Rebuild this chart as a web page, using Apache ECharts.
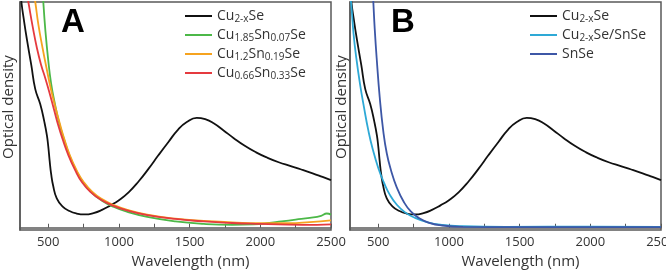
<!DOCTYPE html>
<html>
<head>
<meta charset="utf-8">
<script src="https://cdn.jsdelivr.net/npm/echarts@6/dist/echarts.min.js"></script>
<style>
html, body { margin: 0; padding: 0; background: #fff; }
#chart { width: 666px; height: 270px; }
</style>
</head>
<body>
<div id="chart"></div>
<script>
// 坐标轴刻度
const tickValues = [500, 750, 1000, 1250, 1500, 1750, 2000, 2250, 2500];
const labelValues = [500, 1000, 1500, 2000, 2500];

// Cu2-xSe（两个面板共用）
const cuSeNm = [300, 310, 330, 350, 380, 408, 443, 472, 490, 500, 510, 520, 535, 560, 600, 650, 700, 760, 820, 880, 940, 1000, 1070, 1140, 1210, 1280, 1350, 1420, 1480, 1550, 1610, 1670, 1740, 1810, 1890, 1970, 2050, 2130, 2210, 2290, 2370, 2440, 2500];
const cuSeOd = [108, 100, 91, 83, 72, 61.4, 54.8, 47, 41, 36, 29.5, 24, 18.5, 13.0, 9.5, 7.4, 6.3, 5.9, 6.5, 7.9, 9.9, 12.2, 15.8, 20.6, 26.2, 32.2, 38.0, 43.6, 46.8, 48.7, 48.1, 46.3, 43.1, 39.8, 36.3, 33.4, 31.0, 29.0, 27.4, 25.8, 24.1, 22.5, 21.1];

// 面板 A
const sn007Nm = [455, 465, 480, 500, 520, 545, 575, 610, 650, 700, 750, 810, 880, 960, 1060, 1200, 1400, 1600, 1800, 1950, 2050, 2150, 2250, 2350, 2430, 2470, 2500];
const sn007Od = [112, 100, 87, 74, 64, 55.5, 47, 39.5, 32, 25, 19.8, 15.4, 12.0, 9.3, 7.0, 4.8, 2.8, 1.7, 1.3, 1.5, 2.0, 2.8, 3.6, 4.4, 5.3, 6.3, 5.8];
const sn019Nm = [383, 408, 430, 460, 490, 520, 550, 580, 610, 650, 700, 750, 810, 880, 960, 1060, 1200, 1400, 1600, 1800, 2000, 2200, 2350, 2500];
const sn019Od = [110, 100, 90, 79.5, 70, 61, 53.5, 46.5, 40, 32.5, 25.5, 20.3, 16.0, 12.7, 10.1, 7.9, 5.8, 4.0, 3.0, 2.4, 2.0, 2.0, 2.5, 3.3];
const sn033Nm = [300, 330, 359, 390, 420, 450, 480, 510, 540, 570, 600, 640, 690, 740, 800, 870, 950, 1050, 1200, 1400, 1600, 1800, 2000, 2200, 2400, 2500];
const sn033Od = [122, 110, 100, 89, 79.5, 72, 66, 59.5, 52.5, 45.5, 39.5, 32.5, 25.5, 20.0, 15.8, 12.5, 10.0, 7.8, 5.6, 3.9, 2.8, 2.1, 1.7, 1.4, 1.3, 1.5];

// 面板 B
const hybridNm = [300, 310, 325, 345, 370, 400, 430, 460, 500, 540, 580, 630, 690, 760, 850, 950, 1100, 1400, 2000, 2500];
const hybridOd = [104, 98, 86, 75, 64, 53, 43, 35, 26.5, 20, 14.8, 10.3, 6.8, 4.4, 2.4, 1.3, 0.7, 0.4, 0.5, 0.4];
const snSeNm = [455, 465, 475, 490, 510, 535, 560, 590, 630, 680, 730, 790, 860, 950, 1100, 1500, 2500];
const snSeOd = [112, 100, 88, 74, 58, 43, 33, 25.5, 18, 11.5, 7.2, 4.2, 2.2, 1.0, 0.4, 0.3, 0.3];

const legendA = ['Cu2-xSe', 'Cu1.85Sn0.07Se', 'Cu1.2Sn0.19Se', 'Cu0.66Sn0.33Se'];
const legendB = ['Cu2-xSe', 'Cu2-xSe/SnSe', 'SnSe'];

// 图例里的下标用富文本
const legendRich = {
    'Cu2-xSe': '{m|Cu}{s|2-x}{m|Se}',
    'Cu1.85Sn0.07Se': '{m|Cu}{s|1.85}{m|Sn}{s|0.07}{m|Se}',
    'Cu1.2Sn0.19Se': '{m|Cu}{s|1.2}{m|Sn}{s|0.19}{m|Se}',
    'Cu0.66Sn0.33Se': '{m|Cu}{s|0.66}{m|Sn}{s|0.33}{m|Se}',
    'Cu2-xSe/SnSe': '{m|Cu}{s|2-x}{m|Se/SnSe}',
    'SnSe': '{m|SnSe}'
};

const zip = (xs, ys) => xs.map((x, i) => [x, ys[i]]);
const fontFamily = 'Open Sans';
const frameColor = '#595959';

function makeXAxis(gridIndex) {
    return {
        type: 'value', gridIndex, min: 300, max: 2500,
        axisLine: { lineStyle: { color: frameColor, width: 1.5 } },
        axisTick: { inside: true, length: 4, customValues: tickValues, lineStyle: { color: frameColor } },
        axisLabel: { customValues: labelValues, formatter: v => String(v), color: '#333', fontSize: 13, fontFamily, margin: 6 },
        splitLine: { show: false },
        name: 'Wavelength (nm)', nameLocation: 'middle', nameGap: 22,
        nameTextStyle: { color: '#333', fontSize: 15, fontFamily, padding: [0, 0, 0, 30] }
    };
}

function makeYAxis(gridIndex, gap) {
    return {
        type: 'value', gridIndex, min: -1, max: 100,
        axisLine: { show: true, lineStyle: { color: frameColor, width: 1.5 } },
        axisTick: { show: false }, axisLabel: { show: false }, splitLine: { show: false },
        name: 'Optical density', nameLocation: 'middle', nameGap: gap, nameRotate: 90,
        nameTextStyle: { color: '#333', fontSize: 15, fontFamily, padding: [0, 0, 0, 18] }
    };
}

function makeLine(name, nm, od, color, idx) {
    return {
        name, type: 'line', xAxisIndex: idx, yAxisIndex: idx,
        data: zip(nm, od), symbol: 'none', smooth: 0.5,
        clip: true, lineStyle: { color, width: 1.8 }, itemStyle: { color }
    };
}

function makeLegend(names, left) {
    return {
        data: names, orient: 'vertical', left, top: 4,
        icon: 'rect', itemWidth: 27, itemHeight: 2, itemGap: 4,
        formatter: name => legendRich[name],
        textStyle: {
            color: '#333', fontFamily,
            rich: {
                m: { fontSize: 14, fontFamily, color: '#333', lineHeight: 16 },
                s: { fontSize: 10, fontFamily, color: '#333', lineHeight: 12, verticalAlign: 'bottom' }
            }
        }
    };
}

const chart = echarts.init(document.getElementById('chart'), null, { renderer: 'canvas' });

chart.setOption({
    animation: false,
    backgroundColor: '#fff',
    grid: [
        { left: 20, right: 335, top: 2, bottom: 40, outerBoundsMode: 'none', show: true, borderColor: frameColor, borderWidth: 1.5 },
        { left: 350, right: 5, top: 2, bottom: 40, outerBoundsMode: 'none', show: true, borderColor: frameColor, borderWidth: 1.5 }
    ],
    xAxis: [makeXAxis(0), makeXAxis(1)],
    yAxis: [makeYAxis(0, 4), makeYAxis(1, 1)],
    legend: [makeLegend(legendA, 180), makeLegend(legendB, 525)],
    graphic: [
        { type: 'text', left: 61, top: 6, style: { text: 'A', font: 'bold 33px "Liberation Sans"', fill: '#000' } },
        { type: 'text', left: 391, top: 6, style: { text: 'B', font: 'bold 33px "Liberation Sans"', fill: '#000' } }
    ],
    series: [
        makeLine('Cu2-xSe', cuSeNm, cuSeOd, '#111111', 0),
        makeLine('Cu1.85Sn0.07Se', sn007Nm, sn007Od, '#4cb848', 0),
        makeLine('Cu1.2Sn0.19Se', sn019Nm, sn019Od, '#f6a31f', 0),
        makeLine('Cu0.66Sn0.33Se', sn033Nm, sn033Od, '#e53a3f', 0),
        makeLine('Cu2-xSe', cuSeNm, cuSeOd, '#111111', 1),
        makeLine('Cu2-xSe/SnSe', hybridNm, hybridOd, '#2ea9d6', 1),
        makeLine('SnSe', snSeNm, snSeOd, '#3d57a6', 1)
    ]
});
</script>
</body>
</html>
